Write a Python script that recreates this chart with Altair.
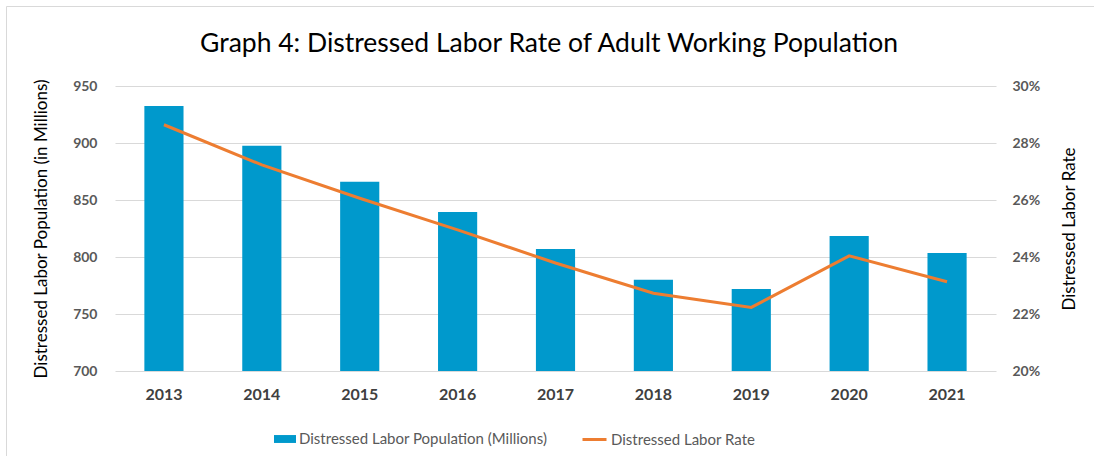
import altair as alt
import pandas as pd

years = ["2013", "2014", "2015", "2016", "2017", "2018", "2019", "2020", "2021"]
population = [932.5, 897.5, 866, 839.5, 807, 780, 772, 818.5, 803.5]
rate = [0.2864, 0.2723, 0.2606, 0.2495, 0.2379, 0.2273, 0.2223, 0.2404, 0.2313]
left_ticks = [700, 750, 800, 850, 900, 950]
right_ticks = [0.20, 0.22, 0.24, 0.26, 0.28, 0.30]

TITLE = "Graph 4: Distressed Labor Rate of Adult Working Population"
BAR_NAME = "Distressed Labor Population (Millions)"
LINE_NAME = "Distressed Labor Rate"

df = pd.DataFrame({"year": years, "pop": population, "rate": rate,
                   "s1": BAR_NAME, "s2": LINE_NAME})

FONT = "Lato"

x = alt.X("year:N", sort=years, title=None,
          scale=alt.Scale(paddingInner=0.6, paddingOuter=0.3),
          axis=alt.Axis(labelAngle=0, labelFontWeight="bold", labelFontSize=16,
                        labelColor="#404040", labelPadding=15, ticks=False,
                        domain=False, grid=False, labelFont=FONT))

bars = alt.Chart(df).mark_bar(color="#0099CC").encode(
    x=x,
    y=alt.Y("pop:Q", scale=alt.Scale(domain=[700, 950], zero=False, nice=False),
            title="Distressed Labor Population  (in Millions)",
            axis=alt.Axis(values=left_ticks, labelFontWeight="bold", labelFontSize=14,
                          labelColor="#595959", labelPadding=18, ticks=False, domain=False,
                          gridColor="#d9d9d9", titleFontSize=17, titleFontWeight="normal",
                          titleColor="#000000", titlePadding=22, labelFont=FONT, titleFont=FONT)),
    y2=alt.datum(700),
    color=alt.Color("s1:N", scale=alt.Scale(range=["#0099CC"]), title=None,
                    legend=alt.Legend(orient="none", legendX=159, legendY=342,
                                      symbolType="M-1,-0.36H1V0.36H-1Z", symbolSize=484,
                                      labelFontSize=15, labelColor="#595959", labelFont=FONT,
                                      symbolStrokeWidth=0, labelOffset=3, labelLimit=400))
)

line = alt.Chart(df).mark_line(strokeWidth=3).encode(
    x=x,
    y=alt.Y("rate:Q", scale=alt.Scale(domain=[0.20, 0.30], zero=False, nice=False),
            title="Distressed Labor Rate",
            axis=alt.Axis(orient="right", values=right_ticks, format=".0%", grid=False,
                          labelFontWeight="bold", labelFontSize=14, labelColor="#595959",
                          labelPadding=16, ticks=False, domain=False, titleFontSize=17,
                          titleFontWeight="normal", titleColor="#000000", titlePadding=39,
                          titleAngle=270, labelFont=FONT, titleFont=FONT)),
    stroke=alt.Stroke("s2:N", scale=alt.Scale(range=["#ED7D31"]), title=None,
                      legend=alt.Legend(orient="none", legendX=466, legendY=340,
                                        symbolType="stroke", symbolSize=576,
                                        symbolStrokeWidth=3, labelFontSize=15,
                                        labelColor="#595959", labelFont=FONT, labelOffset=3,
                                        labelLimit=400))
)

one = df.head(1)
# outer chart frame (decoration: left and top edges are visible in the reference)
frame_left = alt.Chart(one).mark_rule(color="#d9d9d9", strokeWidth=1).encode(
    x=alt.value(-108.5), y=alt.value(-79.5), y2=alt.value(380))
frame_top = alt.Chart(one).mark_rule(color="#d9d9d9", strokeWidth=1).encode(
    x=alt.value(-108.5), x2=alt.value(990), y=alt.value(-79.5))
title = alt.Chart(one).mark_text(fontSize=26.5, font=FONT, color="#000000",
                                 align="center", baseline="alphabetic").encode(
    x=alt.value(434), y=alt.value(-34), text=alt.value(TITLE))

chart = alt.layer(bars, line, frame_left, frame_top, title).resolve_scale(
    y="independent", color="independent", stroke="independent"
).properties(
    width=881, height=285,
    background="white",
    autosize=alt.AutoSizeParams(type="none"),
    padding={"left": 115, "top": 86, "right": 98, "bottom": 85},
).configure_view(strokeWidth=0, stroke="transparent")

chart.save("out.html", embed_options={"renderer": "svg", "actions": False})
